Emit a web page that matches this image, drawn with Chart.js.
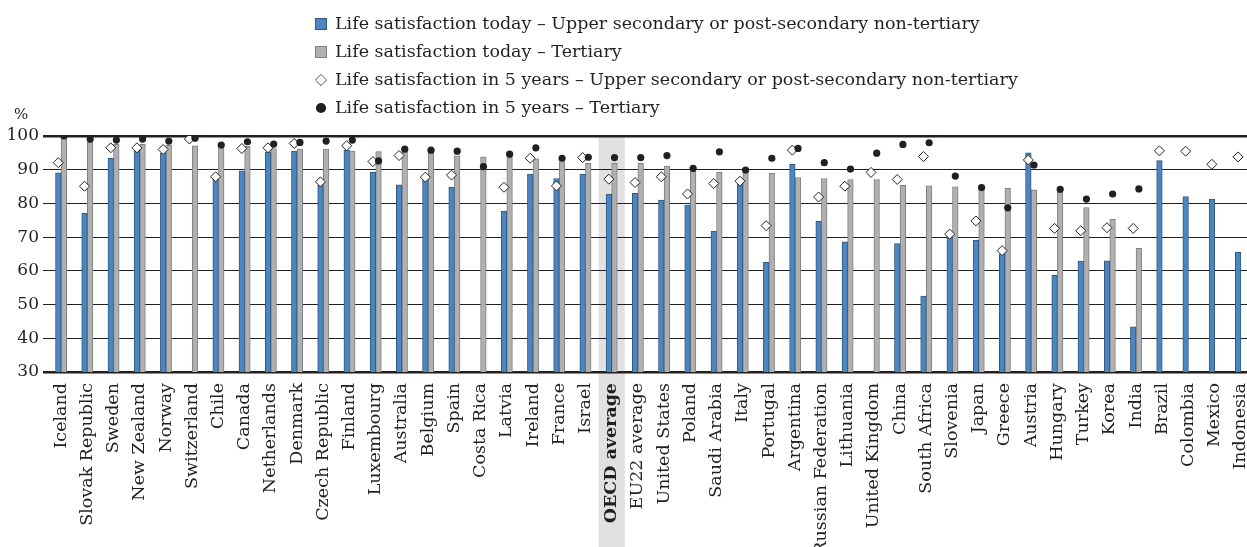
<!DOCTYPE html>
<html>
<head>
<meta charset="utf-8">
<title>Life satisfaction by education</title>
<script src="https://cdn.jsdelivr.net/npm/chart.js@4.4.0/dist/chart.umd.min.js"></script>
<style>
  html, body { margin: 0; padding: 0; overflow: hidden; background: #fff; }
  #wrap { position: relative; width: 1260px; height: 547px; }
  #legend { position: absolute; left: 315px; top: 9px; font-family: 'DejaVu Serif', serif; font-size: 17.5px; color: #231f20; }
  #legend .row { height: 28px; line-height: 28px; white-space: nowrap; }
  #legend .mk { display: inline-block; width: 12px; height: 12px; margin-right: 8px; vertical-align: -1px; box-sizing: border-box; }
  .sq-blue { background: #4a86c0; border: 1px solid #33597f; }
  .sq-grey { background: #b0b0b0; border: 1px solid #7f7f7f; }
  .dia { background: #fff; border: 1px solid #231f20; transform: scale(0.72) rotate(45deg); }
  .dot { background: #231f20; border-radius: 50%; transform: scale(0.85); }
  #pct { position: absolute; left: 14px; top: 105px; font-family: 'DejaVu Serif', serif; font-size: 15px; color: #231f20; }
</style>
</head>
<body>
<div id="wrap">
  <canvas id="chart" width="1260" height="547"></canvas>
  <div id="legend"></div>
  <div id="pct">%</div>
</div>
<script>
// categorias (paises)
const countries = ["Iceland", "Slovak Republic", "Sweden", "New Zealand", "Norway", "Switzerland", "Chile", "Canada",
  "Netherlands", "Denmark", "Czech Republic", "Finland", "Luxembourg", "Australia", "Belgium", "Spain", "Costa Rica",
  "Latvia", "Ireland", "France", "Israel", "OECD average", "EU22 average", "United States", "Poland", "Saudi Arabia",
  "Italy", "Portugal", "Argentina", "Russian Federation", "Lithuania", "United Kingdom", "China", "South Africa",
  "Slovenia", "Japan", "Greece", "Austria", "Hungary", "Turkey", "Korea", "India", "Brazil", "Colombia", "Mexico",
  "Indonesia"];

// Life satisfaction today - upper secondary / post-sec non-tertiary
const todayUpper = [89.1, 77.1, 93.4, 96.1, 94.9, null, 87.4, 89.7, 95.3, 95.5, 85.4, 95.8, 89.2, 85.5, 86.9, 84.8,
  null, 77.7, 88.6, 87.4, 88.6, 82.8, 83.0, 81.0, 79.5, 71.7, 86.3, 62.5, 91.6, 74.7, 68.6, null, 68.1, 52.5, 71.5,
  69.1, 65.0, 95.0, 58.7, 62.9, 63.0, 43.4, 92.7, 82.0, 81.3, 65.5];

// Life satisfaction today - tertiary
const todayTertiary = [99.4, 98.3, 97.5, 97.5, 97.3, 97.1, 97.0, 96.9, 96.3, 96.1, 96.1, 95.5, 95.4, 95.3, 95.2, 94.1,
  93.8, 93.6, 93.2, 92.4, 91.9, 91.9, 91.9, 91.1, 89.7, 89.2, 89.4, 88.9, 87.7, 87.4, 87.1, 87.1, 85.4, 85.2, 84.9,
  84.9, 84.5, 84.0, 83.4, 78.8, 75.3, 66.7, null, null, null, null];

// Life satisfaction in 5 years - upper secondary / post-sec non-tertiary
const futureUpper = [92.1, 85.1, 96.5, 96.5, 96.0, 99.1, 87.9, 96.3, 96.5, 97.8, 86.4, 97.1, 92.4, 94.2, 87.8, 88.4,
  null, 84.8, 93.4, 85.2, 93.6, 87.2, 86.2, 87.9, 82.8, 85.9, 86.6, 73.4, 95.8, 81.9, 85.1, 89.2, 87.1, 93.9, 70.9,
  74.8, 66.0, 92.9, 72.6, 71.9, 72.8, 72.6, 95.6, 95.5, 91.6, 93.8];

// Life satisfaction in 5 years - tertiary
const futureTertiary = [100.0, 99.1, 98.8, 99.1, 98.5, 99.3, 97.3, 98.3, 97.6, 98.1, 98.5, 98.8, 92.6, 96.1, 95.8, 95.5,
  90.9, 94.6, 96.5, 93.4, 93.7, 93.6, 93.6, 94.2, 90.4, 95.3, 89.9, 93.4, 96.3, 92.1, 90.2, 94.9, 97.5, 98.0, 88.1,
  84.7, 78.7, 91.4, 84.2, 81.3, 82.8, 84.3, null, null, null, null];

const yTicks = [30, 40, 50, 60, 70, 80, 90, 100];
const highlight = "OECD average";

const seriesNames = [
  "Life satisfaction today \u2013 Upper secondary or post-secondary non-tertiary",
  "Life satisfaction today \u2013 Tertiary",
  "Life satisfaction in 5 years \u2013 Upper secondary or post-secondary non-tertiary",
  "Life satisfaction in 5 years \u2013 Tertiary"
];

const FONT = "'DejaVu Serif', serif";
const INK = "#231f20";
const shift = 0.108; // los marcadores van encima de cada barra (fraccion de categoria)

// leyenda en html (una fila por serie)
const marks = ["sq-blue", "sq-grey", "dia", "dot"];
document.getElementById("legend").innerHTML = seriesNames.map((n, i) =>
  '<div class="row"><span class="mk ' + marks[i] + '"></span>' + n + '</div>').join("");

// banda gris detras del promedio OCDE
const bandPlugin = {
  id: "band",
  beforeDraw(chart) {
    const x = chart.scales.x;
    const i = countries.indexOf(highlight);
    const w = x.width / countries.length;
    const c = x.getPixelForValue(i);
    const ctx = chart.ctx;
    ctx.save();
    ctx.fillStyle = "#e1e1e1";
    ctx.fillRect(c - w / 2, chart.chartArea.top, w, chart.height - chart.chartArea.top);
    ctx.restore();
  }
};

new Chart(document.getElementById("chart"), {
  type: "bar",
  data: {
    labels: countries,
    datasets: [
      {
        type: "line", label: seriesNames[3], xAxisID: "xm", order: 0,
        data: futureTertiary.map((v, i) => ({ x: i + shift, y: v })),
        showLine: false, pointStyle: "circle", pointRadius: 3.6,
        pointBackgroundColor: INK, pointBorderColor: INK, pointBorderWidth: 0
      },
      {
        type: "line", label: seriesNames[2], xAxisID: "xm", order: 1,
        data: futureUpper.map((v, i) => ({ x: i - shift, y: v })),
        showLine: false, pointStyle: "rectRot", pointRadius: 5,
        pointBackgroundColor: "#fff", pointBorderColor: INK, pointBorderWidth: 1
      },
      {
        label: seriesNames[0], data: todayUpper, order: 2,
        backgroundColor: "#4a86c0", borderColor: "#33597f", borderWidth: 1,
        barThickness: 5.6
      },
      {
        label: seriesNames[1], data: todayTertiary, order: 3,
        backgroundColor: "#b0b0b0", borderColor: "#7f7f7f", borderWidth: 1,
        barThickness: 5.6
      }
    ]
  },
  options: {
    responsive: false,
    animation: false,
    devicePixelRatio: 1,
    layout: { padding: { top: 136, right: 1, left: 0, bottom: 0 } },
    plugins: { legend: { display: false }, tooltip: { enabled: false } },
    scales: {
      x: {
        type: "category",
        offset: true,
        grid: { display: false },
        border: { display: false },
        ticks: {
          autoSkip: false, minRotation: 90, maxRotation: 90, padding: 3, color: INK,
          font: (c) => ({ family: FONT, size: 17.5, weight: countries[c.index] === highlight ? "bold" : "normal" })
        },
        // el ultimo pais queda cortado por el borde, como en el original
        afterFit: (s) => { s.height = 175; s.paddingLeft = 0; s.paddingRight = 0; }
      },
      xm: {
        type: "linear", display: false, offset: false, bounds: "data", grace: 0,
        min: -0.5, max: countries.length - 0.5
      },
      y: {
        min: yTicks[0], max: yTicks[yTicks.length - 1],
        afterBuildTicks: (s) => { s.ticks = yTicks.map(v => ({ value: v })); },
        border: { display: false },
        grid: {
          color: INK, tickLength: 5,
          lineWidth: (c) => (c.tick.value === 30 || c.tick.value === 100) ? 2.5 : 1
        },
        ticks: { color: INK, padding: 4, font: { family: FONT, size: 17 } },
        afterFit: (s) => { s.width = 48; }
      }
    }
  },
  plugins: [bandPlugin]
});
</script>
</body>
</html>
